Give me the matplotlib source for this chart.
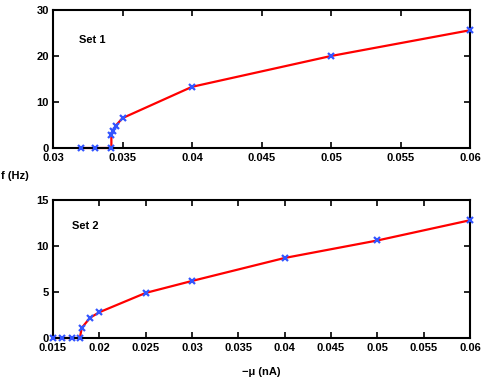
import matplotlib
matplotlib.use('Agg')
import matplotlib.pyplot as plt

# data
mu_set1 = [0.032, 0.033, 0.0342, 0.0342, 0.0343, 0.0345, 0.035, 0.04, 0.05, 0.06]
f_set1 = [0, 0, 0, 2.8, 3.7, 4.8, 6.5, 13.3, 20.0, 25.6]

mu_set2 = [0.015, 0.016, 0.017, 0.0179, 0.0181, 0.019, 0.02, 0.025, 0.03, 0.04, 0.05, 0.06]
f_set2 = [0, 0, 0, 0, 1.1, 2.2, 2.8, 4.9, 6.2, 8.7, 10.6, 12.8]

xticks1 = [0.03, 0.035, 0.04, 0.045, 0.05, 0.055, 0.06]
xticks2 = [0.015, 0.02, 0.025, 0.03, 0.035, 0.04, 0.045, 0.05, 0.055, 0.06]

plt.rcParams['font.family'] = ['Liberation Sans', 'DejaVu Sans']
plt.rcParams['font.weight'] = 'bold'

fig = plt.figure(figsize=(4.85, 3.79), dpi=100)
W, H = 485, 379
ax1 = fig.add_axes([53 / W, 1 - 148 / H, 417 / W, 138 / H])
ax2 = fig.add_axes([53 / W, 1 - 338 / H, 417 / W, 138 / H])


def style(ax, xticks, yticks, xlim, ylim):
    ax.set_xlim(*xlim)
    ax.set_ylim(*ylim)
    ax.set_xticks(xticks)
    ax.set_xticklabels([f'{t:g}' for t in xticks])
    ax.set_yticks(yticks)
    ax.tick_params(direction='in', top=True, right=True, length=4, width=1.2,
                   labelsize=8)
    ax.tick_params(axis='x', pad=3.5)
    ax.tick_params(axis='y', pad=3)
    for s in ax.spines.values():
        s.set_linewidth(1.5)


ax1.plot(mu_set1, f_set1, '-', color='red', lw=1.6, clip_on=False, zorder=2)
ax1.plot(mu_set1, f_set1, 'x', color='#3355ff', ms=4, mew=1.6, clip_on=False, zorder=3)
style(ax1, xticks1, [0, 10, 20, 30], (0.03, 0.06), (0, 30))
ax1.text(0.0319, 23.5, 'Set 1', fontsize=8, fontweight='bold', va='center')

ax2.plot(mu_set2, f_set2, '-', color='red', lw=1.6, clip_on=False, zorder=2)
ax2.plot(mu_set2, f_set2, 'x', color='#3355ff', ms=4, mew=1.6, clip_on=False, zorder=3)
style(ax2, xticks2, [0, 5, 10, 15], (0.015, 0.06), (0, 15))
ax2.text(0.017, 12.2, 'Set 2', fontsize=8, fontweight='bold', va='center')

fig.text(1 / W, 1 - 176 / H, 'f (Hz)', fontsize=8, fontweight='bold', va='center')
fig.text(261 / W, 1 - 372 / H, '\u2212\u03bc (nA)', fontsize=8, fontweight='bold',
         ha='center', va='center')

fig.savefig('out.png', dpi=100)
plt.close(fig)
